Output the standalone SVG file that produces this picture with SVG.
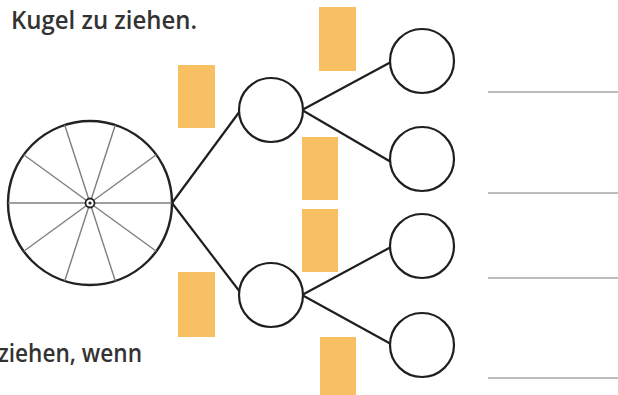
<svg xmlns="http://www.w3.org/2000/svg" width="618" height="395" viewBox="0 0 618 395">
  <style>
    .label { font-family: "Open Sans", "Noto Sans", "Liberation Sans", sans-serif; font-size: 26px; font-weight: 600; fill: #333333; }
    .node { fill: #ffffff; stroke: #1f1f1f; stroke-width: 2.2; }
    .edge { stroke: #1f1f1f; stroke-width: 2.2; fill: none; }
    .box { fill: #f8c062; }
    .rule { stroke: #7a7a7a; stroke-width: 1.2; }
    .spoke { stroke: #7e7e7e; stroke-width: 1.4; }
  </style>
  <rect width="618" height="395" fill="#ffffff"/>

  <text class="label" x="11" y="29" textLength="186" lengthAdjust="spacingAndGlyphs">Kugel zu ziehen.</text>
  <text class="label" x="-2" y="362" textLength="144" lengthAdjust="spacingAndGlyphs">ziehen, wenn</text>

  <!-- spinner wheel with ten sectors -->
  <g id="wheel">
    <circle cx="90" cy="203" r="82" fill="#ffffff" stroke="#222" stroke-width="2.4"/>
    <g class="spoke">
      <line x1="8" y1="203" x2="172" y2="203"/>
      <line x1="23.7" y1="154.8" x2="156.3" y2="251.2"/>
      <line x1="64.7" y1="125.0" x2="115.3" y2="281.0"/>
      <line x1="115.3" y1="125.0" x2="64.7" y2="281.0"/>
      <line x1="156.3" y1="154.8" x2="23.7" y2="251.2"/>
    </g>
    <circle cx="90" cy="203" r="4.5" fill="#ffffff" stroke="#222" stroke-width="1.8"/>
    <circle cx="90" cy="203" r="1.6" fill="#222"/>
  </g>

  <!-- connectors of the tree -->
  <g id="connectors" class="edge">
    <line x1="172" y1="203" x2="240" y2="111"/>
    <line x1="172" y1="203" x2="240" y2="292"/>
    <line x1="302" y1="110" x2="391" y2="62"/>
    <line x1="302" y1="110" x2="391" y2="162"/>
    <line x1="302" y1="295" x2="391" y2="247"/>
    <line x1="302" y1="295" x2="391" y2="344"/>
  </g>

  <!-- orange answer fields -->
  <g id="fields">
    <rect class="box" x="178" y="65" width="37" height="63"/>
    <rect class="box" x="178" y="272" width="37" height="65"/>
    <rect class="box" x="319" y="7" width="37" height="64"/>
    <rect class="box" x="302" y="137" width="36" height="63"/>
    <rect class="box" x="302" y="209" width="36" height="63"/>
    <rect class="box" x="320" y="337" width="36" height="58"/>
  </g>

  <g id="n1"><circle class="node" cx="271" cy="110" r="32"/></g>
  <g id="n2"><circle class="node" cx="271" cy="295" r="32"/></g>
  <g id="n11"><circle class="node" cx="422" cy="61" r="32"/></g>
  <g id="n12"><circle class="node" cx="422" cy="159" r="32"/></g>
  <g id="n21"><circle class="node" cx="422" cy="246" r="32"/></g>
  <g id="n22"><circle class="node" cx="422" cy="345" r="32"/></g>

  <!-- answer lines -->
  <g id="rules" class="rule">
    <line x1="488" y1="92" x2="618" y2="92"/>
    <line x1="488" y1="193" x2="618" y2="193"/>
    <line x1="488" y1="278" x2="618" y2="278"/>
    <line x1="488" y1="378" x2="618" y2="378"/>
  </g>
</svg>
